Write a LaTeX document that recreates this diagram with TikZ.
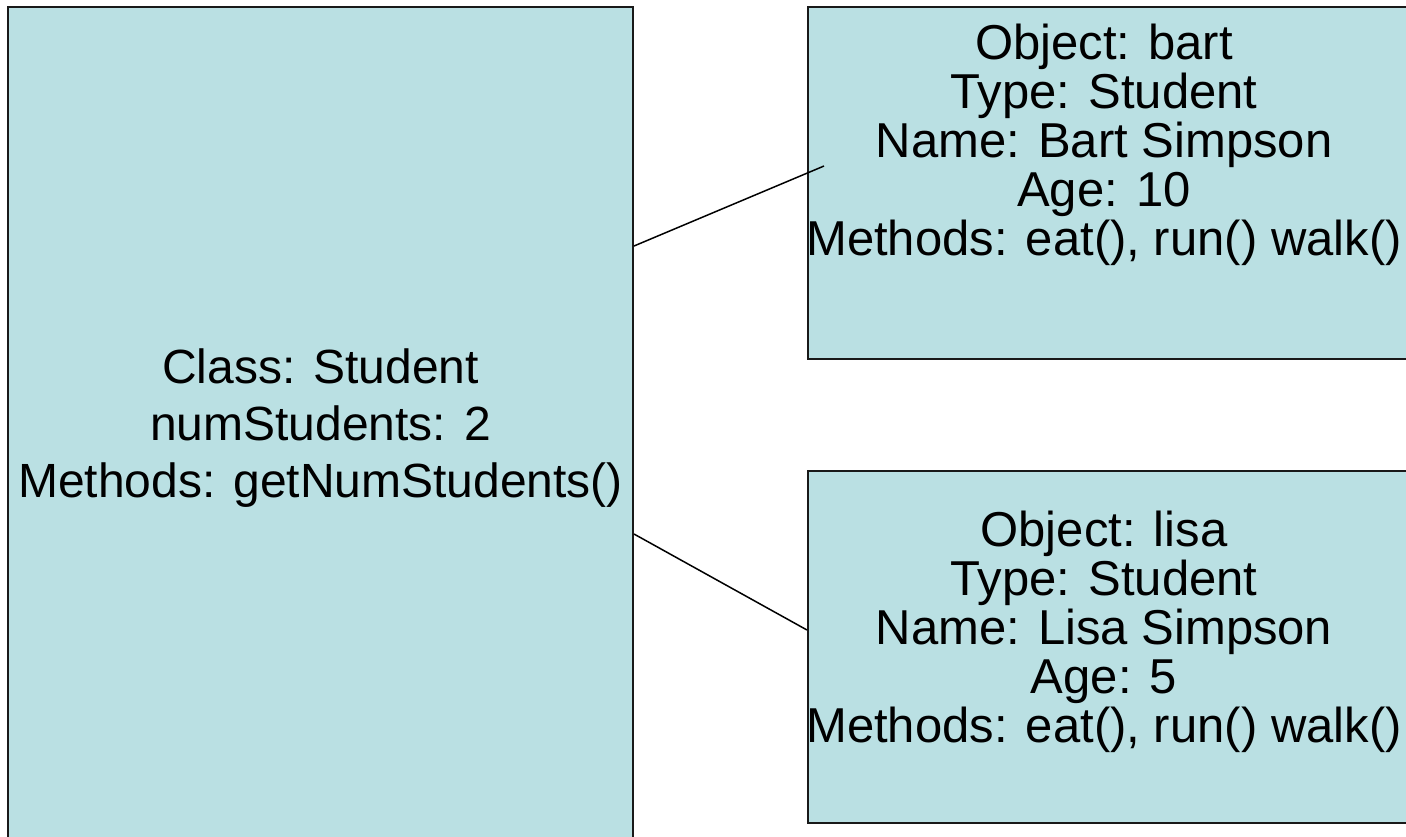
\documentclass[tikz,border=0pt]{standalone}
\usepackage{fontspec}
\setmainfont{Liberation Sans}
\usepackage{xcolor}
\usetikzlibrary{positioning, calc}

\definecolor{boxfill}{RGB}{186,224,227}

\begin{document}
\begin{tikzpicture}[x=0.5pt, y=-0.5pt,
  box/.style={draw=black!90, line width=1pt, fill=boxfill,
              rectangle, inner sep=0pt},
  txt/.style={font=\fontsize{24.5}{24.5}\selectfont, align=center,
              inner sep=0pt},
  link/.style={black, line width=0.75pt}]
\useasboundingbox (0,0) rectangle (1406,836);
\clip (0,0) rectangle (1406,836);

\node[box, anchor=north west, minimum width=312.5pt, minimum height=421pt,
      txt, font=\fontsize{24}{28.5}\selectfont] (cls) at (7,6)
  {Class: Student\\numStudents: 2\\Methods: getNumStudents()};

\node[box, anchor=north west, minimum width=310pt, minimum height=176pt]
  (bart) at (807,6) {};
\node[txt] (barttxt) at (1104,145)
  {Object: bart\\Type: Student\\Name: Bart Simpson\\Age: 10\\
   Methods: eat(), run() walk()};

\node[box, anchor=north west, minimum width=310pt, minimum height=176pt]
  (lisa) at (807,470) {};
\node[txt] (lisatxt) at (1104,632)
  {Object: lisa\\Type: Student\\Name: Lisa Simpson\\Age: 5\\
   Methods: eat(), run() walk()};

% instance links
\coordinate (bartend) at ($(bart.north west)+(17,160)$);
\draw[link] ($(cls.north east)+(0,240)$) -- (bartend);
\draw[link] ($(cls.north east)+(0,528)$) -- ($(lisa.north west)+(0,160)$);
\end{tikzpicture}
\end{document}
